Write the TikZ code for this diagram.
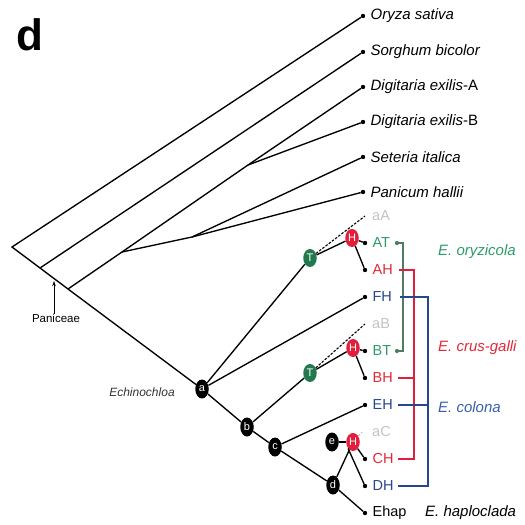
\documentclass[tikz,border=0pt]{standalone}
\usepackage{fontspec}
\setmainfont{Liberation Sans}
\usetikzlibrary{positioning,shapes.geometric,arrows.meta}
\definecolor{hybgreen}{RGB}{35,120,80}
\definecolor{hybred}{RGB}{225,30,60}
\definecolor{txtgreen}{RGB}{45,155,105}
\definecolor{txtred}{RGB}{225,40,55}
\definecolor{txtblue}{RGB}{40,70,140}
\definecolor{spblue}{RGB}{55,95,170}
\definecolor{brgreen}{RGB}{80,125,95}
\definecolor{ghost}{RGB}{195,195,195}
\tikzset{
  tip/.style={circle, fill=black, inner sep=0pt, minimum size=4.4pt},
  gdot/.style={circle, fill=brgreen, inner sep=0pt, minimum size=4.2pt},
  taxon/.style={inner sep=0pt, font=\fontsize{15}{15}\selectfont\itshape},
  subg/.style={inner sep=0pt, font=\fontsize{14.5}{15}\selectfont},
  species/.style={anchor=west, inner sep=0pt, font=\fontsize{15}{15}\selectfont\itshape},
  inner/.style={ellipse, fill=black, text=white, minimum width=13.5pt,
    minimum height=19pt, inner sep=0pt, font=\fontsize{11}{11}\selectfont},
  hybT/.style={inner, fill=hybgreen, minimum height=18pt},
  hybH/.style={inner, fill=hybred, minimum height=18pt},
  branch/.style={line width=1.35pt},
  ghostline/.style={line width=1.1pt, dashed, dash pattern=on 2.5pt off 1.5pt}}

\begin{document}
\begin{tikzpicture}[x=1pt, y=-1pt]
  \useasboundingbox (0,0) rectangle (525,525);
  \node[font=\fontsize{44}{44}\selectfont\bfseries] (panel) at (30,35) {d};

  % backbone
  \coordinate (root) at (12,247);
  \coordinate (n1)   at (40,268);
  \coordinate (n2)   at (68,289);
  \coordinate (n3)   at (122,252);
  \coordinate (dig)  at (248,165);
  \coordinate (n4)   at (192,237);
  \coordinate (panpt) at (54,281);

  % outgroup tips
  \node[tip] (ory) at (363,16)  {};
  \node[tip] (sor) at (363,52)  {};
  \node[tip] (dea) at (363,87)  {};
  \node[tip] (deb) at (363,122) {};
  \node[tip] (set) at (363,157) {};
  \node[tip] (pan) at (363,192) {};
  \node[taxon] (ory-l) [right=5pt of ory] {Oryza sativa};
  \node[taxon] (sor-l) [right=5pt of sor] {Sorghum bicolor};
  \node[taxon] (dea-l) [right=5pt of dea] {Digitaria exilis\upshape -A};
  \node[taxon] (deb-l) [right=5pt of deb] {Digitaria exilis\upshape -B};
  \node[taxon] (set-l) [right=5pt of set] {Seteria italica};
  \node[taxon] (pan-l) [right=5pt of pan] {Panicum hallii};

  % Echinochloa nodes
  \node[inner] (a) at (202,389) {a};
  \node[inner] (b) at (247,427) {b};
  \node[inner] (c) at (275,447) {c};
  \node[inner] (d) at (333,485) {d};
  \node[inner] (e) at (332,442) {e};
  \node[hybT] (T1) at (310,258) {T};
  \node[hybH] (H1) at (352,238) {H};
  \node[hybT] (T2) at (310,373) {T};
  \node[hybH] (H2) at (353,348) {H};
  \node[hybH] (H3) at (353,442) {H};

  % Echinochloa tips
  \coordinate (aA) at (365,216);
  \node[tip] (AT) at (365,243) {};
  \node[tip] (AH) at (365,270) {};
  \node[tip] (FH) at (365,297) {};
  \coordinate (aB) at (365,324);
  \node[tip] (BT) at (365,351) {};
  \node[tip] (BH) at (365,378) {};
  \node[tip] (EH) at (365,405) {};
  \coordinate (aC) at (362,432);
  \node[tip] (CH) at (365,459) {};
  \node[tip] (DH) at (365,486) {};
  \node[tip] (Ehap) at (365,513) {};
  \node[subg, text=ghost, anchor=west] (aA-l) at (372,216) {aA};
  \node[subg, text=txtgreen] (AT-l) [right=5pt of AT] {AT};
  \node[subg, text=txtred] (AH-l) [right=5pt of AH] {AH};
  \node[subg, text=txtblue] (FH-l) [right=5pt of FH] {FH};
  \node[subg, text=ghost, anchor=west] (aB-l) at (372,324) {aB};
  \node[subg, text=txtgreen] (BT-l) [right=5pt of BT] {BT};
  \node[subg, text=txtred] (BH-l) [right=5pt of BH] {BH};
  \node[subg, text=txtblue] (EH-l) [right=5pt of EH] {EH};
  \node[subg, text=ghost, anchor=west] (aC-l) at (372,432) {aC};
  \node[subg, text=txtred] (CH-l) [right=5pt of CH] {CH};
  \node[subg, text=txtblue] (DH-l) [right=5pt of DH] {DH};
  \node[subg] (Ehap-l) [right=5pt of Ehap] {Ehap};

  % tree
  \draw[branch] (ory) -- (root) -- (n1) -- (n2) -- (a);
  \draw[branch] (n1) -- (sor);
  \draw[branch] (n2) -- (n3) -- (dig) -- (dea);
  \draw[branch] (dig) -- (deb);
  \draw[branch] (n3) -- (n4) -- (set);
  \draw[branch] (n4) -- (pan);
  \draw[branch] (a) -- (b) -- (c) -- (d) -- (Ehap);
  \draw[branch] (a) -- (T1);
  \draw[branch] (a) -- (FH);
  \draw[branch] (b) -- (T2);
  \draw[branch] (c) -- (EH);
  \draw[branch] (T1) -- (H1);
  \draw[branch] (H1) -- (AT);
  \draw[branch] (H1) -- (AH);
  \draw[branch] (T2) -- (H2);
  \draw[branch] (H2) -- (BT);
  \draw[branch] (H2) -- (BH);
  \draw[branch] (d) -- (H3);
  \draw[branch] (e) -- (H3);
  \draw[branch] (H3) -- (CH);
  \draw[branch] (H3.south west) -- (DH);
  \draw[ghostline] (T1) -- (aA);
  \draw[ghostline] (T2) -- (aB);
  \draw[ghostline, ghost] (H3) -- (aC);

  % labels of clades
  \node[inner sep=0pt, font=\fontsize{11.5}{12}\selectfont] (paniceae) at (56,318) {Paniceae};
  \draw[line width=1pt, -{Stealth[length=5pt, width=3.5pt]}]
    (panpt |- paniceae.north) -- (panpt);
  \node[inner sep=0pt, text=black!80, font=\fontsize{12}{12}\selectfont\itshape]
    (echino) at (142,392) {Echinochloa};

  % species brackets
  \node[gdot] (gAT) at (397,243) {};
  \node[gdot] (gBT) at (397,351) {};
  \draw[brgreen, line width=1.2pt] (gAT) -- ++(6,0) |- (gBT);
  \coordinate (rbar) at (414,0);
  \coordinate (rAH) at (399,270);
  \coordinate (rBH) at (398,378);
  \coordinate (rCH) at (398,459);
  \draw[hybred, line width=1.2pt] (rAH) -- (rAH -| rbar) -- (rCH -| rbar) -- (rCH);
  \draw[hybred, line width=1.2pt] (rBH) -- (rBH -| rbar);
  \coordinate (bbar) at (428,0);
  \coordinate (bFH) at (400,297);
  \coordinate (bEH) at (398,405);
  \coordinate (bDH) at (398,486);
  \draw[txtblue, line width=1.2pt] (bFH) -- (bFH -| bbar) -- (bDH -| bbar) -- (bDH);
  \draw[txtblue, line width=1.2pt] (bEH) -- (bEH -| bbar);
  \node[species, text=txtgreen] (oryz) at (438,252) {E. oryzicola};
  \node[species, text=txtred] (crus) at (438,348) {E. crus-galli};
  \node[species, text=spblue] (colona) at (438,407) {E. colona};
  \node[species] (haplo) at (425,513) {E. haploclada};
\end{tikzpicture}
\end{document}
